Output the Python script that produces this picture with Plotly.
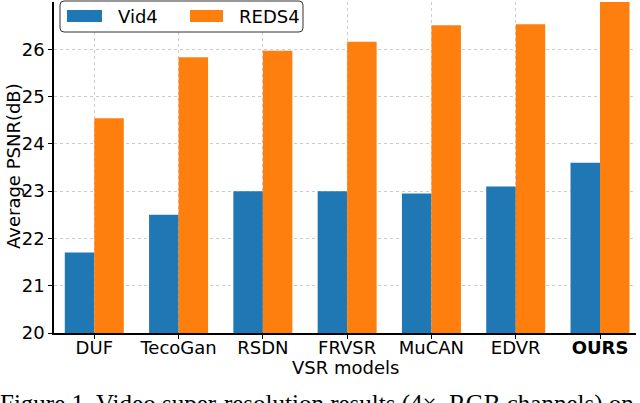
import plotly.graph_objects as go

models = ["DUF", "TecoGan", "RSDN", "FRVSR", "MuCAN", "EDVR", "OURS"]
tick_labels = ["DUF", "TecoGan", "RSDN", "FRVSR", "MuCAN", "EDVR", "<b>OURS</b>"]
vid4 = [21.7, 22.5, 23.0, 23.0, 22.95, 23.1, 23.6]
reds4 = [24.54, 25.83, 25.97, 26.16, 26.51, 26.53, 27.0]
series_names = ["Vid4", "REDS4"]
colors = ["#1f77b4", "#ff7f0e"]
yticks = [20, 21, 22, 23, 24, 25, 26]
x_title = "VSR models"
y_title = "Average PSNR(dB)"
caption = "Figure 1. Video super-resolution results (4×, RGB channels) on"

xs = list(range(len(models)))
fig = go.Figure()
for name, vals, col in zip(series_names, [vid4, reds4], colors):
    fig.add_trace(go.Bar(x=xs, y=vals, name=name, marker=dict(color=col, line=dict(width=0)),
                         showlegend=False))

font = "DejaVu Sans"
FS = 18
fig.update_layout(
    width=640, height=403,
    margin=dict(l=54, r=4, t=2, b=70),
    paper_bgcolor="white", plot_bgcolor="white",
    barmode="group", bargap=0.3, bargroupgap=0,
    font=dict(family=font, size=FS, color="black"),
)
fig.update_xaxes(
    range=[-0.478, 6.427], tickvals=xs, ticktext=tick_labels,
    showline=True, linecolor="black", linewidth=1.5,
    ticks="outside", ticklen=4, tickcolor="black", ticklabelstandoff=-6,
    showgrid=True, gridcolor="#cccccc", griddash="dot", gridwidth=1,
    tickfont=dict(size=FS), zeroline=False,
)
fig.update_yaxes(
    range=[20, 27.0], tickvals=yticks,
    showline=True, linecolor="black", linewidth=1.5,
    ticks="outside", ticklen=4, tickcolor="black",
    showgrid=True, gridcolor="#cccccc", griddash="dot", gridwidth=1,
    tickfont=dict(size=FS), zeroline=False,
)

W, H = 582.0, 331.0
def px(x):
    return (x - 54) / W
def py(y):
    return (333 - y) / H

fig.add_annotation(text=x_title, xref="paper", yref="paper", x=px(345), y=py(367),
                   xanchor="center", yanchor="middle", showarrow=False,
                   font=dict(size=FS, family=font, color="black"))
fig.add_annotation(text=y_title, xref="paper", yref="paper", x=px(13), y=py(166),
                   xanchor="center", yanchor="middle", showarrow=False, textangle=-90,
                   font=dict(size=FS, family=font, color="black"))

# custom legend (matplotlib style)
x0, x1, y0, y1, r = 60, 303, 1, 32, 4
path = (f"M{px(x0+r)},{py(y0)} L{px(x1-r)},{py(y0)} Q{px(x1)},{py(y0)} {px(x1)},{py(y0+r)} "
        f"L{px(x1)},{py(y1-r)} Q{px(x1)},{py(y1)} {px(x1-r)},{py(y1)} "
        f"L{px(x0+r)},{py(y1)} Q{px(x0)},{py(y1)} {px(x0)},{py(y1-r)} "
        f"L{px(x0)},{py(y0+r)} Q{px(x0)},{py(y0)} {px(x0+r)},{py(y0)} Z")
fig.add_shape(type="path", path=path, xref="paper", yref="paper",
              line=dict(color="#333333", width=1), fillcolor="rgba(255,255,255,0.85)")
leg_x = [(67, 102, 116), (190, 223, 237)]
for (a, b, t), name, col in zip(leg_x, series_names, colors):
    fig.add_shape(type="rect", xref="paper", yref="paper",
                  x0=px(a), x1=px(b), y0=py(22), y1=py(10),
                  fillcolor=col, line=dict(width=0))
    fig.add_annotation(text=name, xref="paper", yref="paper", x=px(t), y=py(16.5),
                       xanchor="left", yanchor="middle", showarrow=False,
                       font=dict(size=FS, family=font, color="black"))

fig.add_annotation(text=caption, xref="paper", yref="paper", x=px(-2), y=py(388),
                   xanchor="left", yanchor="top", showarrow=False,
                   font=dict(size=25, family="Liberation Serif", color="black"))

fig.write_html("out.html", config={"displayModeBar": False},
               post_script="document.body.style.margin='0';document.body.style.overflow='hidden';")
